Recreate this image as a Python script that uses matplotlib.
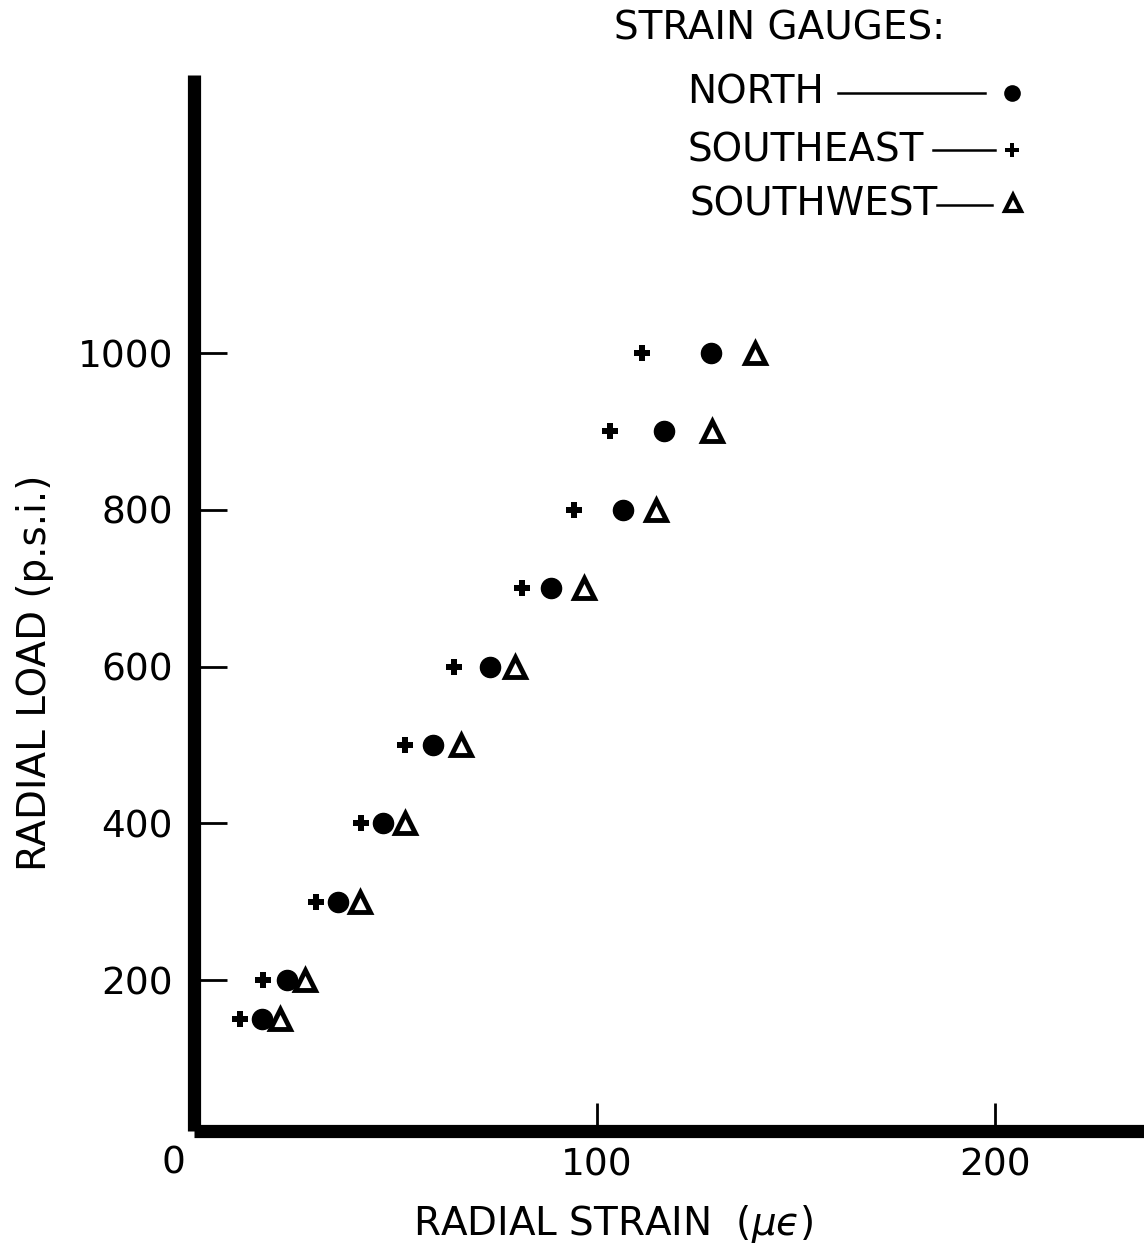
import matplotlib.pyplot as plt
from matplotlib.lines import Line2D

# radial load steps (p.s.i.) and strain readings (micro-strain) per gauge
load = [150, 200, 300, 400, 500, 600, 700, 800, 900, 1000]
north = [15.8, 22.1, 34.9, 46.2, 58.8, 73.1, 88.4, 106.5, 116.8, 128.6]
southeast = [10.3, 16.1, 29.4, 40.7, 51.8, 64.1, 81.2, 94.2, 103.3, 111.3]
southwest = [20.4, 26.6, 40.5, 51.8, 65.8, 79.4, 96.7, 114.8, 128.9, 139.7]

x_ticks = [100, 200]
y_ticks = [200, 400, 600, 800, 1000]

plt.rcParams["font.family"] = ["DejaVu Sans"]
FS_TICK = 27
FS = 28

W, H = 1144, 1253
fig = plt.figure(figsize=(W / 100, H / 100), dpi=100)


def fx(px):
    return px / W


def fy(py):
    return 1 - py / H


ax = fig.add_axes([fx(194), fy(1131), fx(1144) - fx(194), fy(75) - fy(1131)])
ax.set_xlim(-1.3, 237.4)
ax.set_ylim(7.7, 1354.6)

ax.plot(north, load, "o", color="black", ms=14.5, ls="none")
ax.plot(southeast, load, "P", color="black", ms=12, ls="none", markeredgewidth=0)
ax.plot(southwest, load, "^", mfc="white", mec="black", mew=3.5, ms=15, ls="none")

for side in ["top", "right"]:
    ax.spines[side].set_visible(False)
for side in ["left", "bottom"]:
    ax.spines[side].set_linewidth(9.5)
    ax.spines[side].set_capstyle("butt")

ax.set_xticks(x_ticks)
ax.set_yticks(y_ticks)
ax.tick_params(axis="x", direction="in", length=20, width=2, pad=12, labelsize=FS_TICK)
ax.tick_params(axis="y", direction="in", length=24, width=2, pad=15, labelsize=FS_TICK)

fig.text(fx(173), fy(1163), "0", fontsize=FS_TICK, ha="center", va="center")
fig.text(fx(35), fy(673), "RADIAL LOAD (p.s.i.)", fontsize=FS, rotation=90,
         ha="center", va="center")
fig.text(fx(613), fy(1224), "RADIAL STRAIN  ($\\mu\u03f5$)", fontsize=FS,
         ha="center", va="center")

# hand-drawn style legend
fig.text(fx(614), fy(28), "STRAIN GAUGES:", fontsize=FS, ha="left", va="center")
rows = [("NORTH", 687, 93, 838, 985, "o", 12),
        ("SOUTHEAST", 687, 150, 933, 995, "P", 10),
        ("SOUTHWEST", 690, 205, 937, 992, "^", 11)]
for name, tx, ty, l0, l1, mk, ms in rows:
    fig.text(fx(tx), fy(ty), name, fontsize=FS, ha="left", va="center")
    fig.add_artist(Line2D([fx(l0), fx(l1)], [fy(ty), fy(ty)], color="black", lw=1.8))
    if mk == "^":
        fig.add_artist(Line2D([fx(1013)], [fy(ty - 2)], marker=mk, ms=ms, mfc="white",
                              mec="black", mew=3, ls="none"))
    else:
        fig.add_artist(Line2D([fx(1012)], [fy(ty)], marker=mk, ms=ms, color="black",
                              mew=0, ls="none"))

fig.savefig("out.png", dpi=100)
